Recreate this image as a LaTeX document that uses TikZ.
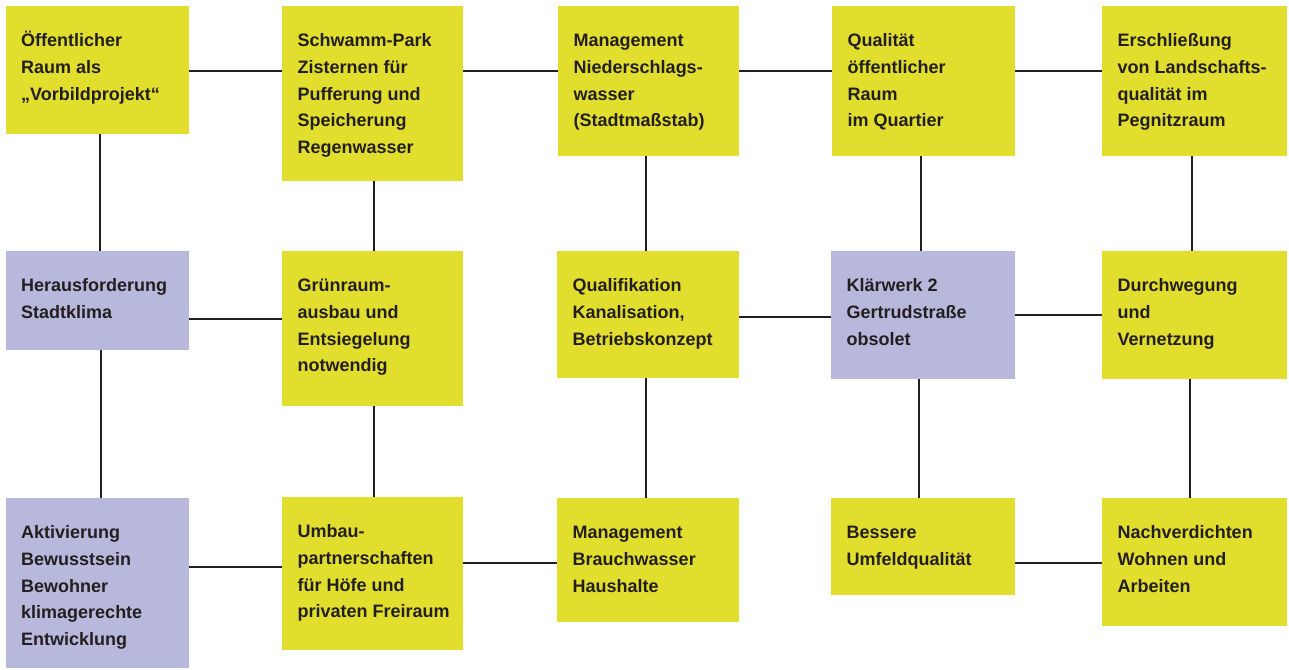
\documentclass[tikz,border=0pt]{standalone}
\usepackage{fontspec}
\setmainfont{Liberation Sans}
\definecolor{yel}{HTML}{E1DE2E}
\definecolor{lil}{HTML}{B8B8DC}
\definecolor{ink}{HTML}{231F20}
\newcommand\mkbox[7]{%
  \node[#2, minimum width={#5-#3}, minimum height={#6-#4}] (#1) at (#3,-#4) {};
  \node[txt] (#1t) at ([xshift=15.5pt,yshift=-21.8pt]#1.north west) {\strut #7};
}
\begin{document}
\begin{tikzpicture}[x=1pt,y=1pt,
  ybox/.style={fill=yel, draw=none, inner sep=0pt, outer sep=0pt, anchor=north west, rectangle},
  pbox/.style={fill=lil, draw=none, inner sep=0pt, outer sep=0pt, anchor=north west, rectangle},
  txt/.style={anchor=north west, inner sep=0pt, align=left, text=ink,
    font=\fontsize{18}{26.7}\selectfont\bfseries},
  conn/.style={draw=ink, line width=2.6pt}]
\useasboundingbox (0,0) rectangle (1289,-669);
% row 1
\mkbox{a1}{ybox}{5.5}{6}{189}{134}{Öffentlicher\\Raum als\\„Vorbildprojekt“}
\mkbox{b1}{ybox}{282}{6}{463}{181}{Schwamm-Park\\Zisternen für\\Pufferung und\\Speicherung\\Regenwasser}
\mkbox{c1}{ybox}{558}{6}{739}{156}{Management\\Niederschlags-\\wasser\\(Stadtmaßstab)}
\mkbox{d1}{ybox}{832}{6}{1015}{156}{Qualität\\öffentlicher\\Raum\\im Quartier}
\mkbox{e1}{ybox}{1102}{6}{1287}{156}{Erschließung\\von Landschafts-\\qualität im\\Pegnitzraum}
% row 2
\mkbox{a2}{pbox}{5.5}{251}{189}{350}{Herausforderung\\Stadtklima}
\mkbox{b2}{ybox}{282}{251}{463}{406}{Grünraum-\\ausbau und\\Entsiegelung\\notwendig}
\mkbox{c2}{ybox}{557}{251}{739}{378}{Qualifikation\\Kanalisation,\\Betriebskonzept}
\mkbox{d2}{pbox}{831}{251}{1015}{379}{Klärwerk 2\\Gertrudstraße\\obsolet}
\mkbox{e2}{ybox}{1102}{251}{1287}{379}{Durchwegung\\und\\Vernetzung}
% row 3
\mkbox{a3}{pbox}{5.5}{498}{189}{668}{Aktivierung\\Bewusstsein\\Bewohner\\klimagerechte\\Entwicklung}
\mkbox{b3}{ybox}{282}{497}{463}{650}{Umbau-\\partnerschaften\\für Höfe und\\privaten Freiraum}
\mkbox{c3}{ybox}{557}{498}{739}{622}{Management\\Brauchwasser\\Haushalte}
\mkbox{d3}{ybox}{831}{498}{1015}{595}{Bessere\\Umfeldqualität}
\mkbox{e3}{ybox}{1102}{498}{1287}{626}{Nachverdichten\\Wohnen und\\Arbeiten}
% horizontal connectors
\draw[conn] (a1.east |- 0,-71) -- (b1.west |- 0,-71);
\draw[conn] (b1.east |- 0,-71) -- (c1.west |- 0,-71);
\draw[conn] (c1.east |- 0,-71) -- (d1.west |- 0,-71);
\draw[conn] (d1.east |- 0,-71) -- (e1.west |- 0,-71);
\draw[conn] (a2.east |- 0,-319) -- (b2.west |- 0,-319);
\draw[conn] (c2.east |- 0,-317) -- (d2.west |- 0,-317);
\draw[conn] (d2.east |- 0,-315) -- (e2.west |- 0,-315);
\draw[conn] (a3.east |- 0,-567) -- (b3.west |- 0,-567);
\draw[conn] (b3.east |- 0,-563) -- (c3.west |- 0,-563);
\draw[conn] (d3.east |- 0,-563) -- (e3.west |- 0,-563);
% vertical connectors
\draw[conn] (a1.south -| 100,0) -- (a2.north -| 100,0);
\draw[conn] (a2.south -| 101,0) -- (a3.north -| 101,0);
\draw[conn] (b1.south -| 374,0) -- (b2.north -| 374,0);
\draw[conn] (b2.south -| 374,0) -- (b3.north -| 374,0);
\draw[conn] (c1.south -| 646,0) -- (c2.north -| 646,0);
\draw[conn] (c2.south -| 646,0) -- (c3.north -| 646,0);
\draw[conn] (d1.south -| 921,0) -- (d2.north -| 921,0);
\draw[conn] (d2.south -| 919,0) -- (d3.north -| 919,0);
\draw[conn] (e1.south -| 1192,0) -- (e2.north -| 1192,0);
\draw[conn] (e2.south -| 1190,0) -- (e3.north -| 1190,0);
\end{tikzpicture}
\end{document}
